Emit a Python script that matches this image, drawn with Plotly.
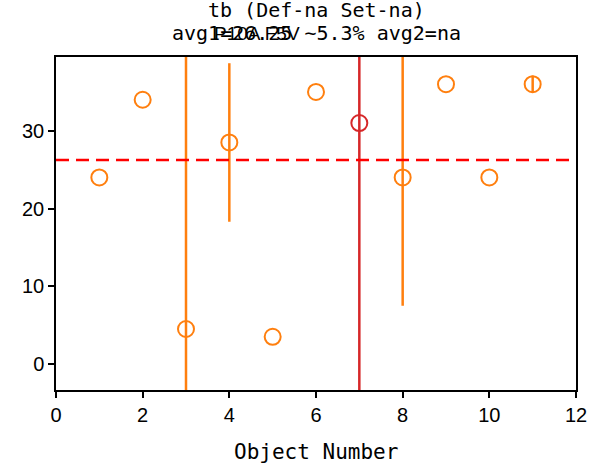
import plotly.graph_objects as go

obj = [1, 2, 3, 4, 5, 6, 7, 8, 9, 10, 11]
vals = [24, 34, 4.5, 28.5, 3.5, 35, 31, 24, 36, 24, 36]
errs = [0, 0, 45, 10.2, 0, 0, 45, 16.5, 0, 0, 1.1]
colors = ["#ff7f0e"] * 6 + ["#d62728"] + ["#ff7f0e"] * 4
avg1 = 26.25
title1 = "tb (Def-na Set-na)"
title2 = "avg1=26.25 ~5.3% avg2=na"
title3 = "P10A F5V"
xticks = [0, 2, 4, 6, 8, 10, 12]
yticks = [0, 10, 20, 30]

fig = go.Figure()
for x, y, e, c in zip(obj, vals, errs, colors):
    fig.add_trace(go.Scatter(
        x=[x], y=[y], mode="markers",
        marker=dict(symbol="circle-open", size=16, color=c, line=dict(width=2, color=c)),
        error_y=dict(type="data", array=[e], visible=e > 0, color=c, thickness=2.5, width=0),
        showlegend=False))

fig.add_shape(type="line", xref="paper", x0=0, x1=1, y0=avg1, y1=avg1,
              line=dict(color="red", width=2.5, dash="13px,7px"))

mono = "DejaVu Sans Mono"
fig.add_annotation(text=title1, xref="paper", yref="paper", x=0.5, y=1.0, yshift=47,
                   yanchor="middle", showarrow=False, font=dict(family=mono, size=20, color="black"))
fig.add_annotation(text=title2, xref="paper", yref="paper", x=0.5, y=1.0, yshift=24,
                   yanchor="middle", showarrow=False, font=dict(family=mono, size=20, color="black"))
fig.add_annotation(text=title3, xref="paper", yref="paper", x=0.387, y=1.0, yshift=24,
                   yanchor="middle", showarrow=False, font=dict(family="Liberation Sans", size=19, color="black"))
fig.add_annotation(text="Object Number", xref="paper", yref="paper", x=0.5, y=0.0, yshift=-62,
                   yanchor="middle", showarrow=False, font=dict(family=mono, size=21, color="black"))

fig.update_layout(
    width=599, height=466,
    margin=dict(l=56, r=15, t=57, b=76),
    plot_bgcolor="white", paper_bgcolor="white",
    font=dict(family="Liberation Sans", size=20, color="black"),
)
fig.update_xaxes(range=[0, 12], tickvals=xticks, showgrid=False, zeroline=False,
                 showline=True, linecolor="black", linewidth=1.5, mirror=True,
                 ticks="outside", ticklen=6, tickwidth=1.5, tickcolor="black")
fig.update_yaxes(range=[-3.35, 39.5], tickvals=yticks, showgrid=False, zeroline=False,
                 showline=True, linecolor="black", linewidth=1.5, mirror=True,
                 ticks="outside", ticklen=6, tickwidth=1.5, tickcolor="black")

fig.write_html("out.html", config={"displayModeBar": False},
               post_script="document.body.style.margin='0';")
